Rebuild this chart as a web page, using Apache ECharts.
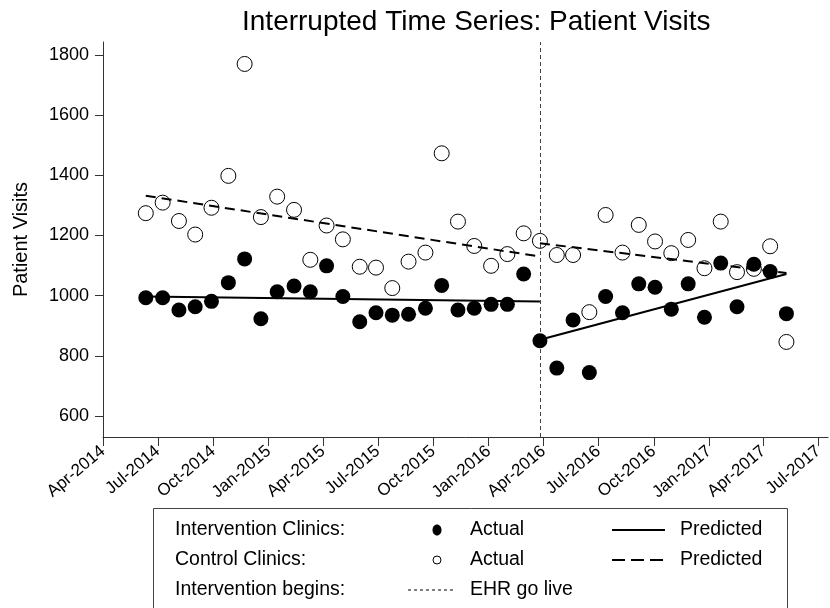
<!DOCTYPE html>
<html>
<head>
<meta charset="utf-8">
<script src="https://cdn.jsdelivr.net/npm/echarts@6/dist/echarts.min.js"></script>
<style>
html,body{margin:0;padding:0;background:#fff;}
#chart{width:830px;height:608px;}
</style>
</head>
<body>
<div id="chart"></div>
<script>
// ---- data ----
const periodDates = [
  '2014-06-11','2014-07-09','2014-08-05','2014-09-01','2014-09-28','2014-10-26','2014-11-22','2014-12-19',
  '2015-01-15','2015-02-12','2015-03-11','2015-04-07','2015-05-04','2015-06-01','2015-06-28','2015-07-25',
  '2015-08-21','2015-09-18','2015-10-15','2015-11-11','2015-12-08','2016-01-05','2016-02-01','2016-02-28',
  '2016-03-26','2016-04-23','2016-05-20','2016-06-16','2016-07-13','2016-08-10','2016-09-06','2016-10-03',
  '2016-10-30','2016-11-27','2016-12-24','2017-01-20','2017-02-16','2017-03-16','2017-04-12','2017-05-09'
];
const interventionActual = [
  993, 993, 952, 963, 981, 1043, 1122, 923, 1013, 1032, 1013, 1099, 997, 913, 943, 935,
  938, 958, 1034, 952, 958, 971, 971, 1072, 850, 759, 919, 744, 997, 943, 1039, 1028,
  955, 1039, 928, 1108, 963, 1104, 1080, 940
];
const controlActual = [
  1274, 1309, 1248, 1203, 1292, 1398, 1770, 1261, 1329, 1285, 1119, 1233, 1187, 1096, 1093, 1025,
  1113, 1143, 1473, 1246, 1165, 1099, 1138, 1207, 1182, 1135, 1135, 945, 1268, 1143, 1235, 1180,
  1141, 1185, 1091, 1246, 1078, 1089, 1164, 846
];
// predicted segments: [date, value] endpoints
const interventionPredPre  = [['2014-06-11', 997], ['2016-03-26', 980]];
const interventionPredPost = [['2016-03-26', 853], ['2017-05-09', 1072]];
const controlPredPre  = [['2014-06-11', 1332], ['2016-03-26', 1130]];
const controlPredPost = [['2016-03-26', 1174], ['2017-05-09', 1075]];
const goLiveDate = '2016-03-26';
const tickDates = ['2014-04-01','2014-07-01','2014-10-01','2015-01-01','2015-04-01','2015-07-01','2015-10-01',
  '2016-01-01','2016-04-01','2016-07-01','2016-10-01','2017-01-01','2017-04-01','2017-07-01'];
const tickLabels = ['Apr-2014','Jul-2014','Oct-2014','Jan-2015','Apr-2015','Jul-2015','Oct-2015',
  'Jan-2016','Apr-2016','Jul-2016','Oct-2016','Jan-2017','Apr-2017','Jul-2017'];
const yTicks = [600, 800, 1000, 1200, 1400, 1600, 1800];

// ---- build ----
// x values are days since 2014-04-01
const BASE = Date.UTC(2014, 3, 1);
function t(s){ const p = s.split('-').map(Number); return Math.round((Date.UTC(p[0], p[1]-1, p[2]) - BASE) / 86400000); }
const tickVals = tickDates.map(t);
const labelMap = {};
tickVals.forEach((v,i)=>{ labelMap[v] = tickLabels[i]; });
const FONT = '"Liberation Sans", Arial, sans-serif';
const LF = '19.5px ' + FONT;

const chart = echarts.init(document.getElementById('chart'), null, {renderer:'canvas'});
chart.setOption({
  animation: false,
  backgroundColor: '#fff',
  title: {
    text: 'Interrupted Time Series: Patient Visits',
    left: 237, top: 3,
    textStyle: {fontFamily: FONT, fontSize: 28, fontWeight: 'normal', color: '#000'}
  },
  grid: {left: 103, right: 2, top: 42, bottom: 171, containLabel: false},
  xAxis: {
    type: 'value',
    min: t('2014-04-01'),
    max: t('2017-07-17'),
    splitLine: {show: false},
    axisLine: {show: true, lineStyle: {color: '#333', width: 1}},
    axisTick: {show: true, inside: false, length: 9, customValues: tickVals, lineStyle: {color: '#333'}},
    axisLabel: {
      customValues: tickVals,
      rotate: 40, margin: 12,
      fontFamily: FONT, fontSize: 17, color: '#000',
      formatter: function(v){ return labelMap[Math.round(v)] || ''; }
    }
  },
  yAxis: {
    type: 'value',
    min: 530, max: 1843,
    name: 'Patient Visits',
    nameLocation: 'middle',
    nameGap: 72,
    nameTextStyle: {fontFamily: FONT, fontSize: 20, color: '#000'},
    splitLine: {show: false},
    axisLine: {show: true, lineStyle: {color: '#333', width: 1}},
    axisTick: {show: true, length: 8, customValues: yTicks, lineStyle: {color: '#333'}},
    axisLabel: {customValues: yTicks, margin: 14, fontFamily: FONT, fontSize: 18, color: '#000',
      formatter: function(v){ return String(v); }}
  },
  series: [
    {
      type: 'line', name: 'Intervention Predicted pre',
      data: interventionPredPre.map(d=>[t(d[0]), d[1]]),
      showSymbol: false, symbol: 'none',
      lineStyle: {color: '#000', width: 2}, z: 3
    },
    {
      type: 'line', name: 'Intervention Predicted post',
      data: interventionPredPost.map(d=>[t(d[0]), d[1]]),
      showSymbol: false, symbol: 'none',
      lineStyle: {color: '#000', width: 2}, z: 3
    },
    {
      type: 'line', name: 'Control Predicted pre',
      data: controlPredPre.map(d=>[t(d[0]), d[1]]),
      showSymbol: false, symbol: 'none',
      lineStyle: {color: '#000', width: 2, type: [10, 6]}, z: 3
    },
    {
      type: 'line', name: 'Control Predicted post',
      data: controlPredPost.map(d=>[t(d[0]), d[1]]),
      showSymbol: false, symbol: 'none',
      lineStyle: {color: '#000', width: 2, type: [10, 6]}, z: 3,
      markLine: {
        silent: true, symbol: 'none', label: {show: false},
        lineStyle: {color: '#444', width: 1, type: [4, 3]},
        data: [{xAxis: t(goLiveDate)}]
      }
    },
    {
      type: 'scatter', name: 'Control Actual',
      data: periodDates.map((d,i)=>[t(d), controlActual[i]]),
      symbol: 'circle', symbolSize: 15,
      itemStyle: {color: 'rgba(0,0,0,0)', borderColor: '#000', borderWidth: 1, opacity: 1}, z: 4
    },
    {
      type: 'scatter', name: 'Intervention Actual',
      data: periodDates.map((d,i)=>[t(d), interventionActual[i]]),
      symbol: 'circle', symbolSize: 15,
      itemStyle: {color: '#000', opacity: 1}, z: 5
    }
  ],
  graphic: [
    {type: 'rect', shape: {x: 153.5, y: 508.5, width: 634, height: 120},
     style: {fill: 'none', stroke: '#444', lineWidth: 1}},
    {type: 'text', x: 175, y: 530, style: {text: 'Intervention Clinics:', font: LF, fill: '#000', verticalAlign: 'middle'}},
    {type: 'text', x: 175, y: 560, style: {text: 'Control Clinics:', font: LF, fill: '#000', verticalAlign: 'middle'}},
    {type: 'text', x: 175, y: 590, style: {text: 'Intervention begins:', font: LF, fill: '#000', verticalAlign: 'middle'}},
    {type: 'ellipse', shape: {cx: 437, cy: 530, rx: 4.5, ry: 5.5}, style: {fill: '#000'}},
    {type: 'circle', shape: {cx: 437, cy: 560, r: 4}, style: {fill: 'none', stroke: '#000', lineWidth: 1}},
    {type: 'text', x: 470, y: 530, style: {text: 'Actual', font: LF, fill: '#000', verticalAlign: 'middle'}},
    {type: 'text', x: 470, y: 560, style: {text: 'Actual', font: LF, fill: '#000', verticalAlign: 'middle'}},
    {type: 'line', shape: {x1: 612, y1: 530, x2: 665, y2: 530}, style: {stroke: '#000', lineWidth: 2}},
    {type: 'line', shape: {x1: 612, y1: 560, x2: 665, y2: 560}, style: {stroke: '#000', lineWidth: 2, lineDash: [13, 6]}},
    {type: 'text', x: 680, y: 530, style: {text: 'Predicted', font: LF, fill: '#000', verticalAlign: 'middle'}},
    {type: 'text', x: 680, y: 560, style: {text: 'Predicted', font: LF, fill: '#000', verticalAlign: 'middle'}},
    {type: 'line', shape: {x1: 408, y1: 590, x2: 455, y2: 590}, style: {stroke: '#000', lineWidth: 1, lineDash: [3, 3]}},
    {type: 'text', x: 470, y: 590, style: {text: 'EHR go live', font: LF, fill: '#000', verticalAlign: 'middle'}}
  ]
});
</script>
</body>
</html>
